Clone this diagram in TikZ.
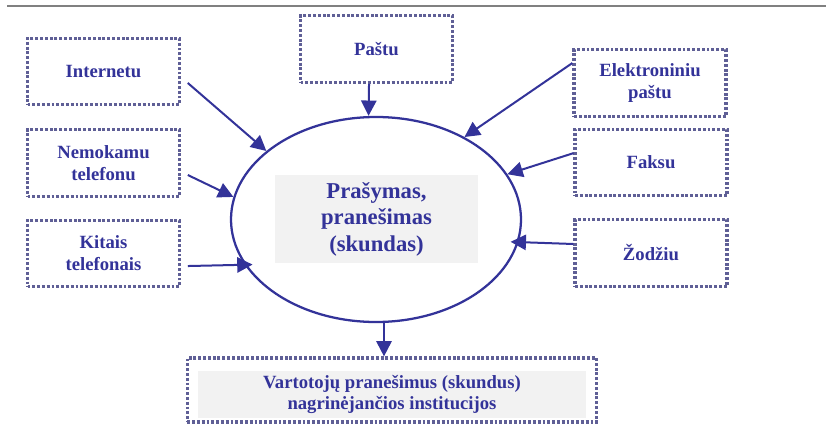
\documentclass[tikz,border=0pt]{standalone}
\usepackage{fontspec}
\setmainfont{Liberation Serif}
\usetikzlibrary{shapes.geometric,arrows.meta}

\definecolor{textblue}{RGB}{51,51,153}
\definecolor{dotblue}{RGB}{95,95,150}
\definecolor{paleback}{RGB}{242,242,242}

\begin{document}
\begin{tikzpicture}[x=0.75pt,y=-0.75pt,
    waybox/.style={draw=dotblue,
        line width=2.4pt,
        dash pattern=on 2.2pt off 1.4pt,
        minimum width=114pt,
        minimum height=50pt,
        inner sep=0pt,
        align=center,
        text=textblue,
        font=\fontsize{14}{16.5}\selectfont\bfseries},
    arr/.style={draw=textblue,
        line width=1.5pt,
        -{Triangle[length=11.5pt,width=11.5pt]}}
]
\useasboundingbox (0,0) rectangle (826,425);

% top rule
\draw [line width=2.2pt, gray] (7,6) -- (826,6);

% centre
\node (ell) [ellipse,
    draw=textblue,
    line width=1.7pt,
    minimum width=217.5pt,
    minimum height=153.75pt,
    inner sep=0pt
] at (376,219.5) {};

\node (prasymas) [
    fill=paleback,
    minimum width=152pt,
    minimum height=66pt,
    align=center,
    text=textblue,
    font=\fontsize{17}{19.9}\selectfont\bfseries
] at (376.5,219) {Prašymas,\\pranešimas\\(skundas)};

% left ways
\node (internetu) [waybox] at (103.5,71.5) {Internetu};
\node (nemokamu) [waybox] at (103.5,163) {Nemokamu\\telefonu};
\node (kitais) [waybox] at (103.5,253.5) {Kitais\\telefonais};

% top and right ways
\node (pastu) [waybox] at (376.5,49) {Paštu};
\node (elpastu) [waybox] at (650,83) {Elektroniniu\\paštu};
\node (faksu) [waybox] at (651,162.5) {Faksu};
\node (zodziu) [waybox] at (651,253) {Žodžiu};

% institutions
\node (institbox) [waybox,
    minimum width=307pt,
    minimum height=48pt
] at (392,390) {};
\node (instit) [
    fill=paleback,
    minimum width=291pt,
    minimum height=34pt,
    align=center,
    text=textblue,
    font=\fontsize{14}{16.3}\selectfont\bfseries
] at (392,394.5) {Vartotojų pranešimus (skundus)\\nagrinėjančios institucijos};

% arrows in
\draw [arr] ([xshift=5pt,yshift=-8.6pt]internetu.east) -- (ell.148);
\draw [arr] ([xshift=5pt,yshift=-9pt]nemokamu.east) -- (ell.171);
\draw [arr, shorten >=-6pt] ([xshift=5pt,yshift=-9.4pt]kitais.east) -- (ell.199.8);
\draw [arr] ([xshift=-5.6pt]pastu.south) -- ([xshift=-5.6pt]ell.north);
\draw [arr] ([yshift=15pt]elpastu.west) -- (ell.43);
\draw [arr] ([yshift=7pt]faksu.west) -- (ell.19.5);
\draw [arr, shorten >=-6pt] ([yshift=6.75pt]zodziu.west) -- (ell.-9.87);

% arrow out
\draw [arr] ([xshift=6pt]ell.south) -- ([xshift=-6pt]institbox.north);

\end{tikzpicture}
\end{document}
